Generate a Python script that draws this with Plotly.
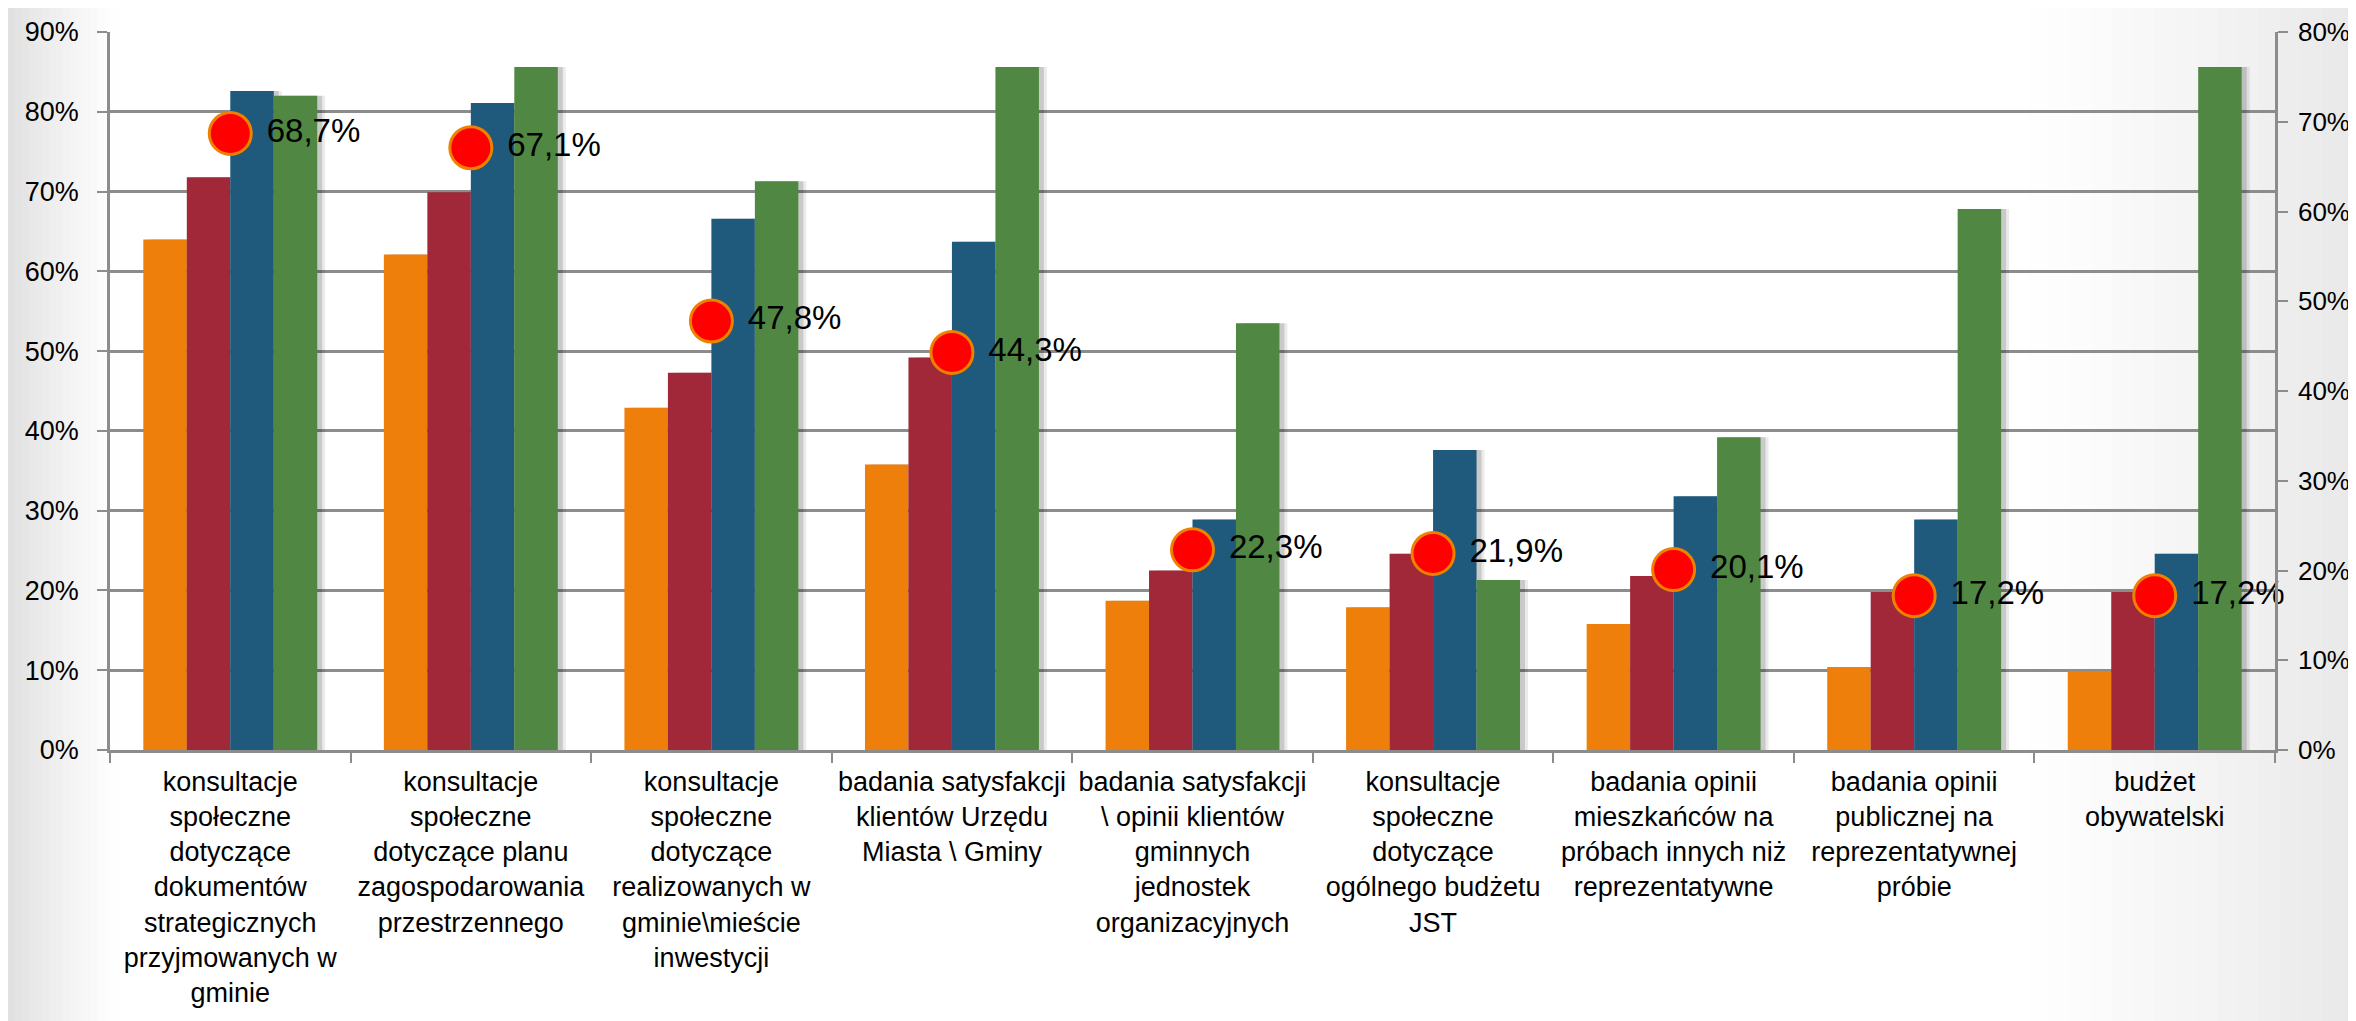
import plotly.graph_objects as go

categories = [
    "konsultacje<br>społeczne<br>dotyczące<br>dokumentów<br>strategicznych<br>przyjmowanych w<br>gminie",
    "konsultacje<br>społeczne<br>dotyczące planu<br>zagospodarowania<br>przestrzennego",
    "konsultacje<br>społeczne<br>dotyczące<br>realizowanych w<br>gminie\\mieście<br>inwestycji",
    "badania satysfakcji<br>klientów Urzędu<br>Miasta \\ Gminy",
    "badania satysfakcji<br>\\ opinii klientów<br>gminnych<br>jednostek<br>organizacyjnych",
    "konsultacje<br>społeczne<br>dotyczące<br>ogólnego budżetu<br>JST",
    "badania opinii<br>mieszkańców na<br>próbach innych niż<br>reprezentatywne",
    "badania opinii<br>publicznej na<br>reprezentatywnej<br>próbie",
    "budżet<br>obywatelski",
]

series_orange = [64.0, 62.1, 42.9, 35.8, 18.7, 17.9, 15.8, 10.4, 9.9]
series_red = [71.8, 69.9, 47.3, 49.2, 22.5, 24.6, 21.8, 19.8, 19.8]
series_blue = [82.6, 81.1, 66.6, 63.7, 28.9, 37.6, 31.8, 28.9, 24.6]
series_green = [82.0, 85.6, 71.3, 85.6, 53.5, 21.3, 39.2, 67.8, 85.6]
series_dots = [68.7, 67.1, 47.8, 44.3, 22.3, 21.9, 20.1, 17.2, 17.2]

left_ticks = [0, 10, 20, 30, 40, 50, 60, 70, 80, 90]
left_tick_text = ["0%", "10%", "20%", "30%", "40%", "50%", "60%", "70%", "80%", "90%"]
right_ticks = [0, 10, 20, 30, 40, 50, 60, 70, 80]
right_tick_text = ["0%", "10%", "20%", "30%", "40%", "50%", "60%", "70%", "80%"]

FONT = "Liberation Sans, Arial, sans-serif"
GRID = "#8c8c8c"

W, H = 2356, 1021
ML, MR, MT, MB = 102, 89, 24, 279
pw = W - ML - MR
ph = H - MT - MB
ncat = len(categories)
cat_px = pw / ncat

fig = go.Figure()

bargap = 0.277
bw = (1 - bargap) / 4
bar_colors = ["#EE7F0B", "#A12839", "#1F5A7C", "#4F8743"]
all_series = [series_orange, series_red, series_blue, series_green]

# soft drop shadows (styling)
sh_off = 5 / cat_px
for i, vals in enumerate(all_series):
    off = -(1 - bargap) / 2 + i * bw
    for k, (dx, a) in enumerate([(sh_off * 1.6, 0.08), (sh_off, 0.14)]):
        fig.add_trace(go.Bar(x=categories, y=vals, offset=off + dx, width=bw,
                             marker=dict(color=f"rgba(0,0,0,{a})", line=dict(width=0)),
                             showlegend=False, hoverinfo="skip"))

for i, (vals, col, nm) in enumerate(zip(all_series, bar_colors, ["Seria 1", "Seria 2", "Seria 3", "Seria 4"])):
    off = -(1 - bargap) / 2 + i * bw
    fig.add_trace(go.Bar(x=categories, y=vals, offset=off, width=bw,
                         marker=dict(color=col, line=dict(width=0)),
                         name=nm, showlegend=False))

labels = [" " + f"{v:.1f}".replace(".", ",") + "%" for v in series_dots]
fig.add_trace(go.Scatter(
    x=categories, y=series_dots, yaxis="y2", mode="markers+text",
    text=labels, textposition="middle right",
    textfont=dict(family=FONT, size=33, color="black"),
    marker=dict(size=42, color="#FF0000", line=dict(color="#F08000", width=3)),
    showlegend=False, cliponaxis=False,
))

# background vignette strips (styling)
shapes = []
def px_to_paper(px):
    return (px - ML) / pw
def mix(c0, c1, t):
    return "#%02x%02x%02x" % tuple(int(round(a + (b - a) * t)) for a, b in zip(c0, c1))
n = 16
left_edge, left_end = 0, 110
for i in range(n):
    x0 = left_edge + (left_end - left_edge) * i / n
    x1 = left_edge + (left_end - left_edge) * (i + 1) / n
    t = (i + 0.5) / n
    col = mix((222, 222, 222), (255, 255, 255), t ** 0.8)
    shapes.append(dict(type="rect", xref="paper", yref="paper", x0=px_to_paper(x0), x1=px_to_paper(x1 + 1),
                       y0=-MB / ph, y1=1 + MT / ph, fillcolor=col, line=dict(width=0), layer="below"))
right_start, right_edge = 2020, W
for i in range(n):
    x0 = right_start + (right_edge - right_start) * i / n
    x1 = right_start + (right_edge - right_start) * (i + 1) / n
    t = (i + 0.5) / n
    col = mix((255, 255, 255), (232, 232, 232), t ** 1.1)
    shapes.append(dict(type="rect", xref="paper", yref="paper", x0=px_to_paper(x0), x1=px_to_paper(x1 + 1),
                       y0=-MB / ph, y1=1 + MT / ph, fillcolor=col, line=dict(width=0), layer="below"))

fig.update_layout(
    width=W, height=H,
    margin=dict(l=ML, r=MR, t=MT, b=MB, autoexpand=False),
    paper_bgcolor="white", plot_bgcolor="rgba(0,0,0,0)",
    barmode="overlay",
    font=dict(family=FONT, size=27, color="black"),
    shapes=shapes,
    xaxis=dict(
        type="category", range=[-0.5, ncat - 0.5], tickangle=0, tickson="boundaries",
        ticks="outside", ticklen=10, ticklabelstandoff=6,
        tickcolor=GRID, tickwidth=2, showline=True, linecolor=GRID, linewidth=2.5,
        showgrid=False, tickfont=dict(family=FONT, size=27, color="black"),
    ),
    yaxis=dict(
        range=[0, 90], tickmode="array", tickvals=left_ticks, ticktext=left_tick_text,
        showgrid=True, gridcolor=GRID, gridwidth=2.5,
        ticks="outside", ticklen=10, ticklabelstandoff=13, tickcolor=GRID, tickwidth=2,
        showline=True, linecolor=GRID, linewidth=2.5,
        zeroline=False, tickfont=dict(family=FONT, size=27, color="black"),
    ),
    yaxis2=dict(
        range=[0, 80], tickmode="array", tickvals=right_ticks, ticktext=right_tick_text,
        overlaying="y", side="right", showgrid=False,
        ticks="outside", ticklen=10, ticklabelstandoff=5, tickcolor=GRID, tickwidth=2,
        showline=True, linecolor=GRID, linewidth=2.5,
        zeroline=False, tickfont=dict(family=FONT, size=26, color="black"),
    ),
)

fig.write_html("out.html")
